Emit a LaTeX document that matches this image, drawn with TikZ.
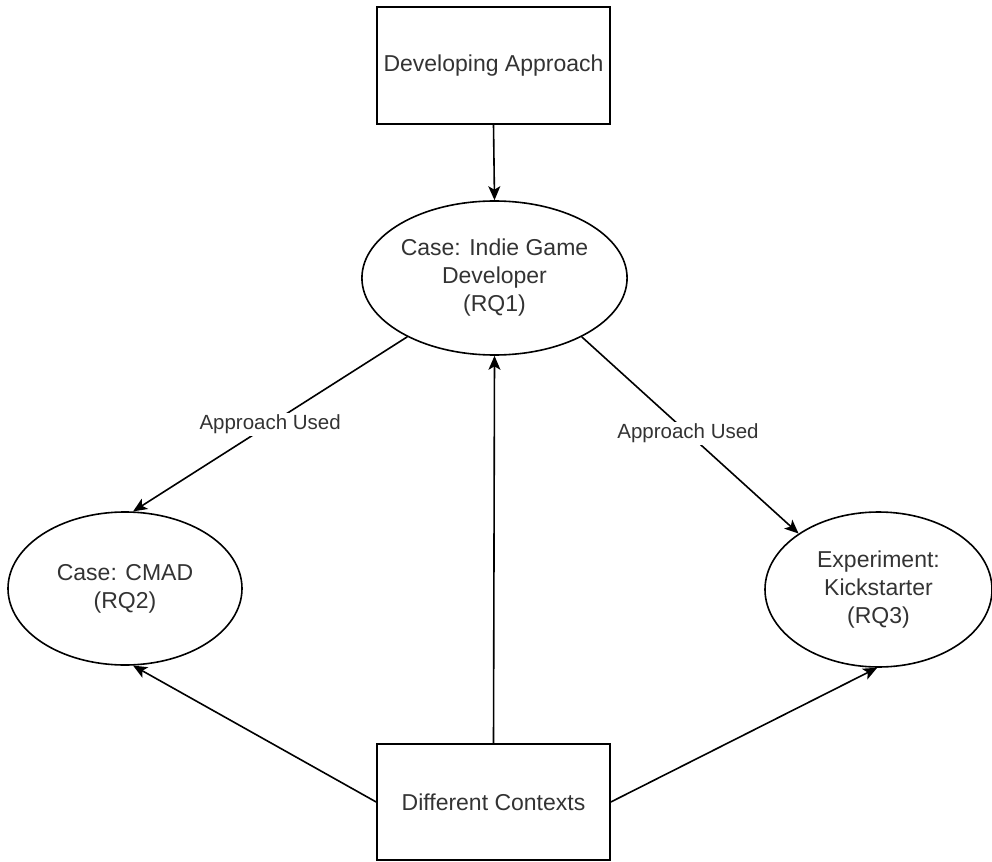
\documentclass[tikz,border=0pt]{standalone}
\usepackage{fontspec}
\setmainfont{Liberation Sans}
\usetikzlibrary{shapes.geometric,arrows.meta}
\definecolor{txt}{HTML}{333333}
\tikzset{
  box/.style={draw=black, line width=1.6pt, rectangle, minimum width=233pt, minimum height=117pt, inner sep=0pt, text=txt, font=\fontsize{23}{28}\selectfont, align=center},
  oval/.style={draw=black, line width=1.6pt, ellipse, minimum width=235pt, minimum height=154pt, inner sep=0pt, text=txt, font=\fontsize{23}{28}\selectfont, align=center},
  conn/.style={draw=black, line width=1.6pt, -{Stealth[length=14pt,width=12pt,inset=3.5pt]}},
  lbl/.style={fill=white, text=txt, font=\fontsize{20.5}{24}\selectfont, inner sep=2pt}
}
\begin{document}
\begin{tikzpicture}[x=1pt,y=-1pt]
\useasboundingbox (0,0) rectangle (992,861);
\node[box] (top) at (493.5,65.5) {Developing Approach};
\node[oval] (e1) at (494.5,278) {Case: Indie Game\\Developer\\(RQ1)};
\node[oval, minimum width=234pt, minimum height=153pt] (eL) at (125,588.5) {Case: CMAD\\(RQ2)};
\node[oval, minimum width=227pt, minimum height=155pt] (eR) at (878.5,589.5) {Experiment:\\Kickstarter\\(RQ3)};
\node[box, minimum height=116pt] (bot) at (493.5,802) {Different Contexts};

\draw[conn] (top.south) -- (e1.north);
\draw[conn] (bot.north) -- (e1.south);
\draw[conn] (e1.214) -- node[lbl, pos=0.5] {Approach Used} (eL.84);
\draw[conn] (e1.326) -- node[lbl, pos=0.49] {Approach Used} (eR.145);
\draw[conn] (bot.west) -- (eL.276);
\draw[conn] (bot.east) -- (eR.269);
\end{tikzpicture}
\end{document}
